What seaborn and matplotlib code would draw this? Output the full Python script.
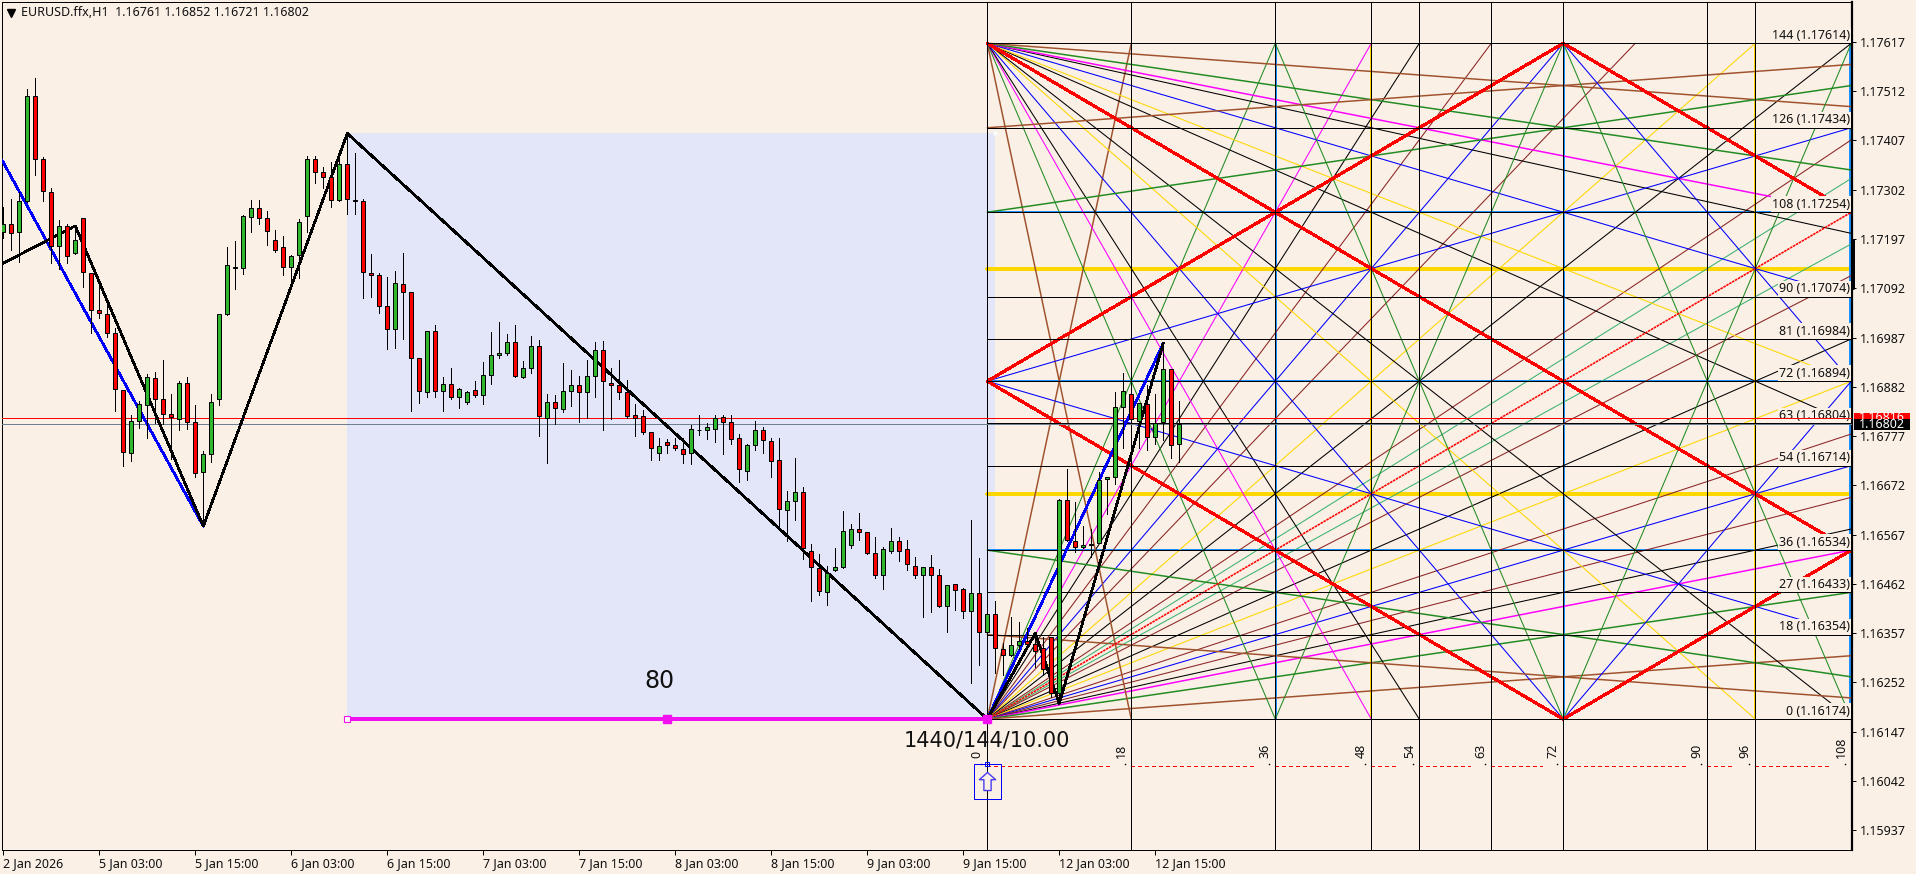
import matplotlib
matplotlib.use("Agg")
import matplotlib.pyplot as plt
from matplotlib.path import Path
from matplotlib.patches import Rectangle
from matplotlib.transforms import blended_transform_factory
import numpy as np
import pandas as pd
import seaborn as sns

# ---- candle data, prices in 1e-5 units ----
OPEN = [117211,117228,117211,117277,117501,117367,117298,117183,117224,117168,
        117241,117124,117045,117038,116996,116876,116742,116810,116844,116900,
        116855,116825,116814,116891,116808,116701,116738,116857,117038,117136,
        117136,117243,117264,117241,117194,117179,117138,117162,117247,117367,
        117339,117330,117281,117356,117281,117277,117124,117121,117055,117006,
        117102,117083,116944,116872,117000,116874,116887,116861,116849,116876,
        116864,116908,116949,116953,116977,116902,116923,116968,116815,116849,
        116834,116874,116885,116870,116906,116960,116891,116885,116872,116823,
        116819,116785,116742,116764,116759,116749,116740,116791,116791,116793,
        116817,116808,116772,116702,116757,116791,116766,116725,116619,116638,
        116657,116533,116495,116444,116491,116497,116544,116580,116572,116527,
        116482,116533,116553,116536,116501,116480,116499,116482,116416,116461,
        116452,116405,116442,116359,116397,116324,116310,116331,116340,116333,
        116325,116348,116229,116640,116553,116540,116544,116550,116685,116689,
        116840,116866,116810,116845,116774,116806,116921,116761]
HIGH = [117266,117282,117298,117516,117539,117371,117305,117237,117230,117226,
        117241,117124,117102,117063,117008,116876,116822,116851,116910,116913,
        116940,116866,116894,116902,116843,116745,116866,117038,117180,117192,
        117248,117280,117280,117256,117216,117203,117162,117239,117374,117374,
        117350,117362,117367,117422,117381,117283,117165,117124,117116,117128,
        117168,117083,116944,117000,117013,116902,116923,116880,116874,116895,
        116934,116998,117020,116994,117014,116937,116990,116982,116866,116864,
        116932,116918,116905,116940,116977,116980,116923,116940,116896,116845,
        116832,116785,116772,116770,116772,116772,116800,116822,116804,116821,
        116821,116821,116781,116761,116810,116796,116772,116772,116660,116730,
        116668,116548,116525,116500,116538,116617,116589,116614,116572,116563,
        116540,116582,116561,116555,116519,116499,116523,116493,116459,116461,
        116454,116599,116517,116397,116425,116337,116391,116381,116367,116357,
        116349,116349,116642,116706,116636,116585,116578,116701,116689,116870,
        116911,116896,116847,116885,116866,116976,116921,116852]
LOW = [117200,117173,117149,117275,117333,117277,117145,117134,117145,117166,
       117094,116996,117028,116989,116831,116714,116724,116795,116773,116804,
       116802,116729,116790,116792,116690,116585,116722,116844,117034,117090,
       117122,117212,117229,117184,117170,117120,117095,117114,117212,117317,
       117305,117266,117278,117250,117250,117072,117074,117040,116963,116965,
       116984,116831,116848,116861,116861,116831,116856,116837,116846,116861,
       116846,116889,116944,116950,116902,116900,116912,116778,116720,116803,
       116828,116841,116806,116815,116861,116791,116813,116855,116816,116778,
       116781,116726,116726,116741,116747,116720,116717,116779,116771,116764,
       116739,116760,116679,116683,116747,116741,116690,116577,116553,116598,
       116515,116425,116438,116417,116489,116495,116539,116555,116525,116474,
       116451,116527,116511,116492,116474,116391,116402,116412,116359,116406,
       116389,116251,116289,116352,116273,116268,116308,116324,116324,116284,
       116268,116222,116207,116553,116531,116538,116519,116550,116612,116675,
       116752,116811,116751,116748,116761,116769,116731,116721]
CLOSE = [117228,117209,117277,117501,117367,117300,117183,117224,117160,117194,
         117126,117045,117040,116996,116878,116744,116809,116846,116902,116855,
         116825,116817,116891,116808,116699,116738,116849,117038,117141,117138,
         117245,117264,117241,117213,117173,117138,117160,117234,117367,117339,
         117330,117281,117356,117283,117277,117126,117121,117055,117006,117104,
         117083,116944,116874,117000,116874,116889,116861,116878,116872,116864,
         116908,116949,116953,116977,116904,116923,116968,116820,116849,116836,
         116874,116885,116870,116906,116960,116894,116885,116870,116820,116816,
         116785,116751,116755,116759,116751,116738,116793,116791,116796,116815,
         116808,116770,116706,116759,116791,116768,116723,116621,116638,116657,
         116538,116497,116446,116486,116497,116574,116580,116572,116527,116482,
         116536,116553,116533,116504,116482,116499,116480,116414,116459,116450,
         116405,116442,116359,116397,116325,116310,116331,116340,116334,116320,
         116280,116229,116640,116555,116540,116544,116548,116683,116689,116840,
         116874,116813,116847,116776,116804,116921,116759,116802]

# ---- swing lines (bar number, price in 1e-5) ----
BLACK_SWING_BARS = [-0.16, 9, 25, 43, 123, 129, 132, 145]
BLACK_SWING_PRICE = [117144, 117225, 116585, 117422, 116174, 116357, 116207, 116975]
BLUE_SWING_1_BARS = [-0.16, 25]
BLUE_SWING_1_PRICE = [117365, 116585]
BLUE_SWING_2_BARS = [123, 145]
BLUE_SWING_2_PRICE = [116174, 116975]

# ---- gann grid ----
GRID_ORIGIN_BAR = 123
GRID_BASE = 1.16174
GRID_STEP = 0.0001
GRID_WIDTH = 108
GRID_HEIGHT = 144
TIME_LEVELS = [0, 18, 36, 48, 54, 63, 72, 90, 96, 108]
PRICE_LEVELS = [0, 18, 27, 36, 54, 63, 72, 81, 90, 108, 126, 144]
PRICE_LABELS = ["1.16174", "1.16354", "1.16433", "1.16534", "1.16714", "1.16804",
                "1.16894", "1.16984", "1.17074", "1.17254", "1.17434", "1.17614"]
GOLD_LEVELS = [48, 96]
BLUE_LEVELS = [36, 72, 108]

SIENNA, GREEN, MAGENTA, BLACK, BROWN, BLUE, GOLD, SEA, RED = (
    "#A0522D", "#228B22", "#FF00FF", "#000000", "#8B2525", "#0000FF", "#FFD700", "#3CB371", "#FF0000")
RISE_FAN = [(8, SIENNA), (4, GREEN), (3, MAGENTA), (8/3, BLACK), (16/7, BROWN), (2, BLUE),
            (16/9, BROWN), (3/2, GOLD), (4/3, BLACK), (8/7, BROWN), (16/15, SEA),
            (15/16, SEA), (7/8, BROWN), (3/4, BLACK), (2/3, GOLD), (9/16, BROWN),
            (1/2, BLUE), (7/16, BROWN), (3/8, BLACK), (1/3, MAGENTA), (1/4, GREEN), (1/8, SIENNA)]
FALL_FAN = [(8, SIENNA), (4, GREEN), (3, MAGENTA), (8/3, BLACK), (2, BLUE), (3/2, GOLD),
            (4/3, BLACK), (3/4, BLACK), (2/3, GOLD), (1/2, BLUE), (3/8, BLACK),
            (1/3, MAGENTA), (1/4, GREEN), (1/8, SIENNA)]
SIDE_RAYS = [(72, 1/2, BLUE), (72, -1/2, BLUE), (126, 1/8, SIENNA), (18, -1/8, SIENNA),
             (108, 1/4, GREEN), (36, -1/4, GREEN)]
THIN_PATHS = [([36, 72, 108], [144, 0, 144], GREEN), ([36, 72, 108], [0, 144, 0], GREEN),
              ([72, 108], [144, 72], BLUE), ([72, 108], [0, 72], BLUE)]
RED_PATHS = [([0, 72, 108], [72, 144, 108]), ([0, 72, 108], [72, 0, 36]), ([0, 108], [144, 36])]
RED_DIAG = ([0, 108], [0, 108])

# ---- axes text ----
PRICE_TICKS = [1.17617, 1.17512, 1.17407, 1.17302, 1.17197, 1.17092, 1.16987, 1.16882, 1.16777,
               1.16672, 1.16567, 1.16462, 1.16357, 1.16252, 1.16147, 1.16042, 1.15937]
DATE_TICK_BARS = list(range(0, 157, 12))[:13]
DATE_LABELS = ["2 Jan 2026", "5 Jan 03:00", "5 Jan 15:00", "6 Jan 03:00", "6 Jan 15:00",
               "7 Jan 03:00", "7 Jan 15:00", "8 Jan 03:00", "8 Jan 15:00", "9 Jan 03:00",
               "9 Jan 15:00", "12 Jan 03:00", "12 Jan 15:00"]
HEADER = "EURUSD.ffx,H1  1.16761 1.16852 1.16721 1.16802"
ASK = 1.16816
BID = 1.16802
RECT_BARS = (43, 124)
RECT_PRICE = (1.16174, 1.17422)

LINEN = "#FAF0E6"
LAVENDER = "#E3E5F8"
CANDLE_GREEN = "#2DB82D"
W, H = 1916, 874
PX = 0.72
UI_FONT = "Noto Sans"

sns.set_theme(style="white", rc={"font.family": [UI_FONT, "DejaVu Sans"],
                                 "figure.facecolor": LINEN, "axes.facecolor": LINEN})
fig = plt.figure(figsize=(W / 100, H / 100), dpi=100, facecolor=LINEN)
ax = fig.add_axes([2 / W, 24 / H, 1850 / W, 848 / H])


def gx(t):
    return GRID_ORIGIN_BAR + np.asarray(t, dtype=float)


def gy(level):
    return GRID_BASE + np.asarray(level, dtype=float) * GRID_STEP


def draw(xs, ys, color, px=1.0, z=2.0, aa=False, **kw):
    d = pd.DataFrame({"x": np.asarray(xs, float), "y": np.asarray(ys, float)})
    sns.lineplot(data=d, x="x", y="y", estimator=None, sort=False, color=color,
                 linewidth=px * PX, zorder=z, antialiased=aa, legend=False, ax=ax, **kw)


def ray(y0, slope, color):
    """Line from the grid's left edge until it leaves the grid box."""
    limit = (GRID_HEIGHT - y0) / slope if slope > 0 else -y0 / slope
    t = min(GRID_WIDTH, limit)
    px = 1.5 if abs(slope) <= 1/3 or color == SIENNA else 1.05
    draw(gx([0, t]), gy([y0, y0 + slope * t]), color, px=px, z=2.2, aa=True)


# shaded rectangle
ax.add_patch(Rectangle((RECT_BARS[0], RECT_PRICE[0]), RECT_BARS[1] - RECT_BARS[0],
                       RECT_PRICE[1] - RECT_PRICE[0], facecolor=LAVENDER, edgecolor="none", zorder=0.5))

# horizontal and vertical grid levels
for lv in BLUE_LEVELS:
    draw(gx([0, GRID_WIDTH]), gy([lv, lv]) + 0.00002, "#1E90FF", px=1, z=2.0)
    draw(gx([lv, lv]) + 0.13, gy([0, GRID_HEIGHT]), "#1E90FF", px=1, z=2.0)
for lv in GOLD_LEVELS:
    draw(gx([0, GRID_WIDTH]), gy([lv, lv]), GOLD, px=2.2, z=2.0)
    draw(gx([lv, lv]) - 0.13, gy([0, GRID_HEIGHT]), GOLD, px=1, z=2.0)
ylim = (1.15895, 1.17702)
for t in TIME_LEVELS[:-1]:
    draw(gx([t, t]), ylim, BLACK, px=1, z=2.6)
for lv in PRICE_LEVELS:
    draw(gx([0, GRID_WIDTH]), gy([lv, lv]), BLACK, px=1, z=3.5)

# fans
for s, c in RISE_FAN:
    ray(0, s, c)
for s, c in FALL_FAN:
    ray(GRID_HEIGHT, -s, c)
for y0, s, c in SIDE_RAYS:
    ray(y0, s, c)
for xs, ys, c in THIN_PATHS:
    draw(gx(xs), gy(ys), c, px=1.05, z=2.2, aa=True)
for xs, ys in RED_PATHS:
    draw(gx(xs), gy(ys), RED, px=2.1, z=2.5)
draw(gx(RED_DIAG[0]), gy(RED_DIAG[1]), RED, px=1.6, z=2.5, aa=True, linestyle=(0, (1.6, 0.5)))

# level labels
for lv, lab in zip(PRICE_LEVELS, PRICE_LABELS):
    ax.text(gx(GRID_WIDTH) - 0.15, gy(lv) + 0.00003, f"{lv} ({lab})", ha="right", va="bottom",
            fontsize=9, color="#111111", zorder=3.2,
            bbox=dict(facecolor=LINEN, edgecolor="none", pad=1.0))

# time labels and dashed line
TIME_MARK_PRICE = 1.16091
DOT_PRICE = 1.16078
DASH_PRICE = 1.16073
for a, b in zip(TIME_LEVELS[:-1], TIME_LEVELS[1:]):
    draw(gx([a, b - 2.6]), [DASH_PRICE, DASH_PRICE], RED, px=1, z=2.4, linestyle=(0, (4, 3.5)))
for t in TIME_LEVELS:
    ax.text(gx(t) - 1.25, TIME_MARK_PRICE, str(t), rotation=90, ha="center", va="bottom",
            fontsize=9, color="#111111", zorder=4)
    ax.plot(gx(t) - 0.75, DOT_PRICE, marker="s", ms=1.0, mew=0, color="black", zorder=4)

# horizontal price lines
ax.axhline(ASK, color=RED, lw=1 * PX, zorder=3.6, antialiased=False)
ax.axhline(BID, color="#708090", lw=1 * PX, zorder=3.6, antialiased=False)

# swing lines
draw(BLUE_SWING_1_BARS, np.array(BLUE_SWING_1_PRICE) / 1e5, BLUE, px=1.7, z=3.7)
draw(BLUE_SWING_2_BARS, np.array(BLUE_SWING_2_PRICE) / 1e5, BLUE, px=1.7, z=3.7)
draw(BLACK_SWING_BARS, np.array(BLACK_SWING_PRICE) / 1e5, BLACK, px=1.7, z=3.8)

# magenta base line with handles
draw([RECT_BARS[0], GRID_ORIGIN_BAR], [RECT_PRICE[0]] * 2, "#F010F0", px=4, z=3.9)
ax.plot([RECT_BARS[0]], [RECT_PRICE[0]], marker="s", ms=4.5, mfc="white", mec="#F010F0", mew=0.8, zorder=4)
ax.plot([(RECT_BARS[0] + GRID_ORIGIN_BAR) / 2, GRID_ORIGIN_BAR], [RECT_PRICE[0]] * 2, ls="",
        marker="s", ms=5.5, color="#F010F0", zorder=4)
ax.plot([RECT_BARS[1]], [RECT_PRICE[1]], marker="s", ms=3.5, mfc="white", mec="#F0F0F0", mew=0.6, zorder=1)

# candles
o, h, l, c = [np.array(v) / 1e5 for v in (OPEN, HIGH, LOW, CLOSE)]
k = np.arange(len(o))
ax.vlines(k, l, h, color="black", lw=1 * PX, zorder=5, antialiased=False)
up = c >= o
ax.bar(k, np.abs(c - o), bottom=np.minimum(o, c), width=0.5,
       color=np.where(up, CANDLE_GREEN, RED), edgecolor="black", linewidth=1 * PX, zorder=6)

# arrow object
ARROW_PRICE = 1.16042
arrow = Path([(0, .5), (.45, .1), (.2, .1), (.2, -.5), (-.2, -.5), (-.2, .1), (-.45, .1), (0, .5)], closed=True)
ax.plot([GRID_ORIGIN_BAR], [ARROW_PRICE], marker=arrow, ms=13, mfc=LINEN, mec="#4A3CF0", mew=1.0, zorder=4)
ax.add_patch(Rectangle((GRID_ORIGIN_BAR - 1.66, 1.16004), 3.32, 0.00074, fill=False,
                       edgecolor=BLUE, lw=1 * PX, zorder=4))
ax.plot([GRID_ORIGIN_BAR], [DOT_PRICE], marker="s", ms=2.6, mfc="none", mec=BLUE, mew=0.7, zorder=4)

# large texts
ax.text(82.0, 1.16255, "80", fontsize=17, family="DejaVu Sans", ha="center", va="center", color="#111111", zorder=4)
ax.text(112.6, 1.16128, "1440/144/10.00", fontsize=15, family="DejaVu Sans", ha="left", va="center",
        color="#111111", zorder=4)

# axes
ax.set_xlim(-0.1625, 231.09)
ax.set_ylim(*ylim)
ax.set_xlabel("")
ax.set_ylabel("")
ax.yaxis.tick_right()
ax.set_yticks(PRICE_TICKS)
ax.set_yticklabels([f"{v:.5f}" for v in PRICE_TICKS], fontsize=9, color="#111111")
ax.set_xticks(DATE_TICK_BARS)
ax.set_xticklabels(DATE_LABELS, fontsize=9, color="#111111", ha="left")
ax.tick_params(axis="y", right=True, length=3, width=1 * PX, pad=2.5, color="black")
ax.tick_params(axis="x", bottom=True, length=3.6, width=1 * PX, pad=1.5, color="black")
for name, sp in ax.spines.items():
    sp.set_visible(True)
    sp.set_color("black")
    sp.set_linewidth(1 * PX)
ax.spines["right"].set_linewidth(2.2 * PX)

# right blue edge and dark strip
tr = blended_transform_factory(ax.transAxes, ax.transData)
draw(gx([GRID_WIDTH, GRID_WIDTH]) - 0.1, gy([0, GRID_HEIGHT]), "#1E90FF", px=2, z=2.0)
ax.plot([1.0005, 1.0005], [1.17092, 1.17195], color="black", lw=3 * PX, transform=tr, clip_on=False, zorder=7)

# price tags: the red one sits behind the black one
for i, (price, color, height, text) in enumerate([(ASK, RED, 0.00020, "1.16816"), (BID, "black", 0.00024, "1.16802")]):
    ax.add_patch(Rectangle((1.0012, price - height / 2), 56 / 1850, height, transform=tr, clip_on=False,
                           facecolor=color, edgecolor="none", zorder=8 + i))
    ax.text(1.0038, price, text, transform=tr, fontsize=9, color="white", va="center", ha="left",
            clip_on=False, zorder=8.5 + i)

# header
fig.text(21 / W, 1 - 12.7 / H, HEADER, fontsize=9, color="#111111", va="center", ha="left")
ax.plot([0.0046], [0.9875], marker="v", ms=5.5, color="black", transform=ax.transAxes, zorder=9)

fig.savefig("out.png", dpi=100, facecolor=LINEN)
